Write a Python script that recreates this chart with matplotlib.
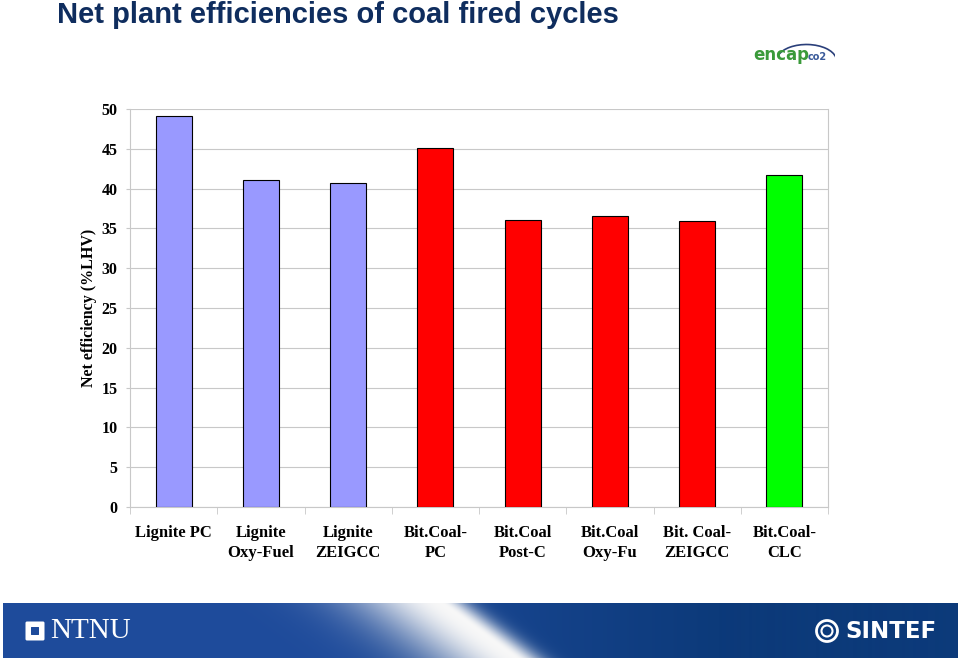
import numpy as np
import matplotlib
matplotlib.use("Agg")
import matplotlib.pyplot as plt
from matplotlib.patches import Arc, FancyBboxPatch

categories = ["Lignite PC", "Lignite\nOxy-Fuel", "Lignite\nZEIGCC", "Bit.Coal-\nPC",
              "Bit.Coal\nPost-C", "Bit.Coal\nOxy-Fu", "Bit. Coal-\nZEIGCC", "Bit.Coal-\nCLC"]
efficiency = [49.1, 41.1, 40.7, 45.1, 36.1, 36.6, 35.9, 41.7]
bar_colors = ["#9999ff", "#9999ff", "#9999ff", "#ff0000",
              "#ff0000", "#ff0000", "#ff0000", "#00ff00"]
yticks = [0, 5, 10, 15, 20, 25, 30, 35, 40, 45, 50]

serif = "Liberation Serif"

fig = plt.figure(figsize=(9.6, 6.61), dpi=100)
ax = fig.add_axes([130/960, 1 - 507/661, 698/960, 398/661])

x = np.arange(len(categories))
ax.bar(x, efficiency, width=0.41, color=bar_colors, edgecolor="black", linewidth=0.8, zorder=3)

ax.set_xlim(-0.5, len(categories) - 0.5)
ax.set_ylim(0, 50)
ax.set_yticks(yticks)
ax.set_yticklabels([str(t) for t in yticks], fontfamily=serif, fontweight="bold", fontsize=11.5)
ax.yaxis.grid(True, color="#c8c8c8", linewidth=0.8, zorder=0)
ax.tick_params(axis="y", length=3, color="#c8c8c8", pad=6)

ax.set_xticks(x)
ax.set_xticklabels(categories, fontfamily=serif, fontweight="bold", fontsize=12, linespacing=1.35)
ax.tick_params(axis="x", length=0, pad=13)
ax.set_xticks(np.arange(len(categories) + 1) - 0.5, minor=True)
ax.tick_params(axis="x", which="minor", length=5, color="#c8c8c8")

for side in ["left", "right", "top", "bottom"]:
    ax.spines[side].set_color("#c8c8c8")
    ax.spines[side].set_linewidth(0.8)
ax.spines["top"].set_visible(False)

ax.set_ylabel("Net efficiency (%LHV)", fontfamily=serif, fontweight="bold", fontsize=11.5, labelpad=3)

# title
fig.text(57/960, 1 - 15/661, "Net plant efficiencies of coal fired cycles",
         fontfamily=["Liberation Sans Narrow", "Liberation Sans"], fontweight="bold",
         fontsize=21, color="#0f2d5e", ha="left", va="center")

# encap logo
fig.text(753/960, 1 - 55/661, "encap", fontfamily="DejaVu Sans", fontweight="bold",
         fontsize=12, color="#3a9a3a", ha="left", va="center")
fig.text(808/960, 1 - 57/661, "co2", fontfamily="DejaVu Sans", fontweight="bold",
         fontsize=7, color="#3a5a9a", ha="left", va="center")
lax = fig.add_axes([760/960, 1 - 62/661, 75/960, 25/661])
lax.axis("off")
lax.set_xlim(0, 1)
lax.set_ylim(0, 1)
lax.add_patch(Arc((0.62, 0.05), 0.8, 1.3, theta1=20, theta2=150, color="#2a3f7a", lw=1.2))

# bottom banner
bax = fig.add_axes([3/960, 1 - 658/661, 954/960, 55/661])
bax.axis("off")
w, h = 954, 55
xx = np.linspace(0, 1, w)[None, :].repeat(h, 0)
yy = np.linspace(0, 1, h)[:, None].repeat(w, 1)
left_c = np.array([30, 75, 155]) / 255
right_c = np.array([12, 58, 122]) / 255
img = np.zeros((h, w, 3))
base = np.clip((xx - 0.35) / 0.4, 0, 1)[..., None]
img[:] = left_c * (1 - base) + right_c * base
# diagonal light streak
pos = (xx * w - (442 + (515 - 442) * yy - 3))
streak = np.where(pos < 0, np.exp(-(pos / 90) ** 2), np.exp(-(pos / 25) ** 2))[..., None]
img = img * (1 - streak) + np.array([1, 1, 1]) * streak * 0.97
img = np.clip(img, 0, 1)
bax.imshow(img, extent=[0, w, 0, h], aspect="auto")
bax.set_xlim(0, w)
bax.set_ylim(0, h)
bax.add_patch(FancyBboxPatch((24, 19), 16, 16, boxstyle="round,pad=1.5", fc="white", ec="none"))
bax.add_patch(FancyBboxPatch((28.5, 23.5), 7, 7, boxstyle="round,pad=0.5", fc="#1e4b9b", ec="none"))
bax.text(47, 27, "NTNU", fontfamily=serif, fontsize=21, color="white", ha="left", va="center")
bax.text(842, 27, "SINTEF", fontfamily="DejaVu Sans", fontweight="bold", fontsize=16.5,
         color="white", ha="left", va="center")
bax.add_patch(plt.Circle((824, 27), 10.5, fc="none", ec="white", lw=2))
bax.add_patch(plt.Circle((824, 27), 5.5, fc="none", ec="white", lw=1.5))

fig.savefig("out.png", dpi=100)
